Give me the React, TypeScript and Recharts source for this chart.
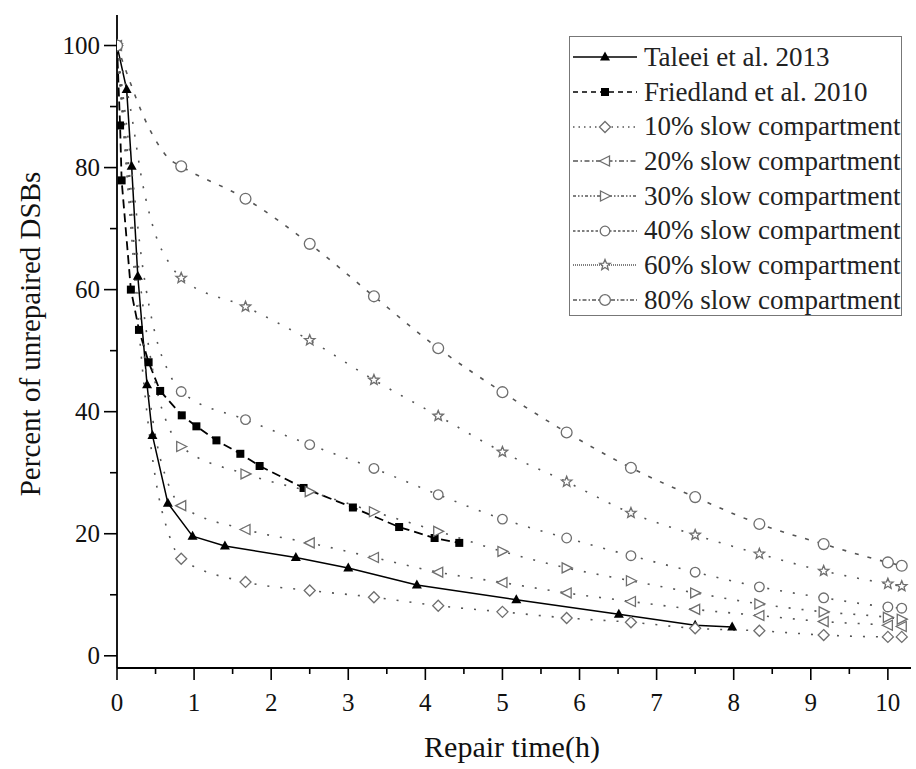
import React from 'react';
import { LineChart, Line, XAxis, YAxis, Legend } from 'recharts';

// measured data (Taleei et al. 2013)
const taleeiTime = [0, 0.125, 0.19, 0.27, 0.39, 0.46, 0.66, 0.98, 1.4, 2.32, 3.0, 3.89, 5.18, 6.51, 7.5, 7.98];
const taleeiPct = [100, 92.8, 80.2, 62.2, 44.4, 36.1, 25, 19.6, 18.0, 16.1, 14.4, 11.6, 9.2, 6.8, 5.0, 4.7];

// measured data (Friedland et al. 2010)
const friedlandTime = [0, 0.04, 0.06, 0.18, 0.285, 0.41, 0.56, 0.84, 1.03, 1.29, 1.6, 1.85, 2.42, 3.06, 3.66, 4.12, 4.44];
const friedlandPct = [100, 86.9, 77.9, 60, 53.4, 48.1, 43.4, 39.4, 37.6, 35.3, 33.1, 31.1, 27.5, 24.3, 21.1, 19.3, 18.5];

// model curves, markers drawn at index 0 and from index 5 on
const modelTime = [0, 0.17, 0.33, 0.5, 0.67, 0.833, 1.667, 2.5, 3.333, 4.167, 5, 5.833, 6.667, 7.5, 8.333, 9.167, 10, 10.18];
const slow10 = [100, 72, 47, 29, 20, 15.9, 12.1, 10.7, 9.6, 8.2, 7.2, 6.2, 5.5, 4.5, 4.1, 3.4, 3.1, 3.1];
const slow20 = [100, 75, 52, 36, 28, 24.6, 20.7, 18.5, 16.1, 13.7, 12.0, 10.3, 8.9, 7.6, 6.6, 5.6, 5.0, 4.8];
const slow30 = [100, 78, 58, 44.5, 37.5, 34.3, 29.8, 26.9, 23.6, 20.4, 17.1, 14.4, 12.3, 10.3, 8.5, 7.2, 6.3, 6.0];
const slow40 = [100, 82, 64, 52.5, 46.5, 43.3, 38.7, 34.6, 30.7, 26.4, 22.4, 19.3, 16.4, 13.7, 11.3, 9.5, 8.0, 7.8];
const slow60 = [100, 90, 77.5, 69, 64.5, 61.9, 57.2, 51.7, 45.2, 39.3, 33.4, 28.5, 23.4, 19.8, 16.7, 13.9, 11.8, 11.4];
const slow80 = [100, 94, 88.8, 84.5, 81.5, 80.2, 74.9, 67.5, 58.9, 50.4, 43.2, 36.6, 30.8, 26.0, 21.6, 18.3, 15.3, 14.75];

const xTicks = [0, 0.5, 1, 1.5, 2, 2.5, 3, 3.5, 4, 4.5, 5, 5.5, 6, 6.5, 7, 7.5, 8, 8.5, 9, 9.5, 10];
const yTicks = [0, 10, 20, 30, 40, 50, 60, 70, 80, 90, 100];

const FONT = '"Liberation Serif", "Times New Roman", serif';

const rows = (t: number[], v: number[], marked: (i: number) => boolean) =>
  t.map((x, i) => ({ x, y: v[i], m: marked(i) }));

const allMarked = () => true;
const modelMarked = (i: number) => i === 0 || i >= 5;

const star = (cx: number, cy: number, ro: number, ri: number) => {
  const pts: string[] = [];
  for (let k = 0; k < 10; k++) {
    const r = k % 2 === 0 ? ro : ri;
    const a = -Math.PI / 2 + (k * Math.PI) / 5;
    pts.push(`${cx + r * Math.cos(a)},${cy + r * Math.sin(a)}`);
  }
  return pts.join(' ');
};

const drawMarker = (shape: string, cx: number, cy: number) => {
  const open = { fill: '#fff', stroke: '#6e6e6e', strokeWidth: 1.3 };
  switch (shape) {
    case 'tri':
      return <polygon points={`${cx},${cy - 5.5} ${cx - 5},${cy + 3.5} ${cx + 5},${cy + 3.5}`} fill="#000" />;
    case 'square':
      return <rect x={cx - 4} y={cy - 4} width={8} height={8} fill="#000" />;
    case 'diamond':
      return <polygon points={`${cx},${cy - 5.5} ${cx + 5.5},${cy} ${cx},${cy + 5.5} ${cx - 5.5},${cy}`} {...open} />;
    case 'left':
      return <polygon points={`${cx - 5.5},${cy} ${cx + 4.5},${cy - 5} ${cx + 4.5},${cy + 5}`} {...open} />;
    case 'right':
      return <polygon points={`${cx + 5.5},${cy} ${cx - 4.5},${cy - 5} ${cx - 4.5},${cy + 5}`} {...open} />;
    case 'star':
      return <polygon points={star(cx, cy, 5.5, 2.4)} {...open} />;
    case 'circle':
      return <circle cx={cx} cy={cy} r={4.8} {...open} />;
    default:
      return <circle cx={cx} cy={cy} r={5.4} {...open} />;
  }
};

const series = [
  { name: 'Taleei et al. 2013', data: rows(taleeiTime, taleeiPct, allMarked), shape: 'tri', stroke: '#000', width: 1.5, dash: undefined, legendDash: undefined, type: 'linear' },
  { name: 'Friedland et al. 2010', data: rows(friedlandTime, friedlandPct, allMarked), shape: 'square', stroke: '#000', width: 1.8, dash: '9 5', legendDash: '5 4', type: 'linear' },
  { name: '10% slow compartment', data: rows(modelTime, slow10, modelMarked), shape: 'diamond', stroke: '#555', width: 1.6, dash: '2 11', legendDash: '1.5 4', type: 'monotone' },
  { name: '20% slow compartment', data: rows(modelTime, slow20, modelMarked), shape: 'left', stroke: '#555', width: 1.6, dash: '2 11', legendDash: '5 2.5 1.5 2.5', type: 'monotone' },
  { name: '30% slow compartment', data: rows(modelTime, slow30, modelMarked), shape: 'right', stroke: '#555', width: 1.6, dash: '2 11', legendDash: '3 2 1.5 2 1.5 2', type: 'monotone' },
  { name: '40% slow compartment', data: rows(modelTime, slow40, modelMarked), shape: 'circle', stroke: '#555', width: 1.6, dash: '2 11', legendDash: '2.5 2', type: 'monotone' },
  { name: '60% slow compartment', data: rows(modelTime, slow60, modelMarked), shape: 'star', stroke: '#555', width: 1.6, dash: '2 11', legendDash: '1 1', type: 'monotone' },
  { name: '80% slow compartment', data: rows(modelTime, slow80, modelMarked), shape: 'octa', stroke: '#555', width: 1.6, dash: '4 9', legendDash: '4 2 1.5 2', type: 'monotone' },
];

const XTick = ({ x, y, payload }: any) => {
  const major = Number.isInteger(payload.value);
  return (
    <g>
      <line x1={x} x2={x} y1={y} y2={y + (major ? 12 : 6)} stroke="#000" strokeWidth={1.6} />
      {major && (
        <text x={x} y={y + 43} textAnchor="middle" fontSize={25} fontFamily={FONT} fill="#111">
          {payload.value}
        </text>
      )}
    </g>
  );
};

const YTick = ({ x, y, payload }: any) => {
  const major = payload.value % 20 === 0;
  return (
    <g>
      <line x1={x} x2={x - (major ? 13 : 7)} y1={y} y2={y} stroke="#000" strokeWidth={1.6} />
      {major && (
        <text x={x - 17} y={y + 8} textAnchor="end" fontSize={25} fontFamily={FONT} fill="#111">
          {payload.value}
        </text>
      )}
    </g>
  );
};

const renderLegend = () => (
  <div
    style={{
      width: 333,
      height: 280,
      boxSizing: 'border-box',
      border: '1.5px solid #777',
      background: '#fff',
      paddingTop: 3,
    }}
  >
    {series.map((s) => (
      <div key={s.name} style={{ display: 'flex', alignItems: 'center', height: 34.7 }}>
        <svg width={72} height={20} style={{ flex: 'none' }}>
          <line x1={3} x2={67} y1={10} y2={10} stroke={s.stroke} strokeWidth={1.4} strokeDasharray={s.legendDash} />
          {drawMarker(s.shape, 35, 10)}
        </svg>
        <span style={{ fontFamily: FONT, fontSize: 27, color: '#222', whiteSpace: 'nowrap', marginLeft: 2 }}>{s.name}</span>
      </div>
    ))}
  </div>
);

export default function App() {
  return (
    <div style={{ position: 'absolute', left: 0, top: 0, background: '#fff' }}>
      <LineChart width={916} height={769} margin={{ top: 15, right: 5, left: 0, bottom: 0 }}>
        <XAxis
          type="number"
          dataKey="x"
          domain={[0, 10.3]}
          ticks={xTicks}
          interval={0}
          allowDataOverflow
          height={101}
          tickSize={0}
          tickMargin={0}
          tickLine={false}
          tick={<XTick />}
          axisLine={{ stroke: '#000', strokeWidth: 1.8 }}
          label={{
            content: () => (
              <text x={512} y={757} textAnchor="middle" fontSize={30} fontFamily={FONT} fill="#111">
                Repair time(h)
              </text>
            ),
          }}
        />
        <YAxis
          type="number"
          dataKey="y"
          domain={[-2, 105]}
          ticks={yTicks}
          interval={0}
          allowDataOverflow
          width={117}
          tickSize={0}
          tickMargin={0}
          tickLine={false}
          tick={<YTick />}
          axisLine={{ stroke: '#000', strokeWidth: 1.8 }}
          label={{
            content: () => (
              <text x={40} y={334} transform="rotate(-90 40 334)" textAnchor="middle" fontSize={29} fontFamily={FONT} fill="#111">
                Percent of unrepaired DSBs
              </text>
            ),
          }}
        />
        <Legend
          layout="horizontal"
          verticalAlign="middle"
          align="center"
          content={renderLegend}
          wrapperStyle={{ position: 'absolute', left: 569, top: 36, width: 333, height: 280 }}
        />
        {series.map((s) => (
          <Line
            key={s.name}
            data={s.data}
            dataKey="y"
            name={s.name}
            type={s.type as any}
            stroke={s.stroke}
            strokeWidth={s.width}
            strokeDasharray={s.dash}
            isAnimationActive={false}
            activeDot={false}
            dot={(p: any) =>
              p.payload && p.payload.m && p.cx != null ? (
                <g key={`${s.name}-${p.index}`}>{drawMarker(s.shape, p.cx, p.cy)}</g>
              ) : (
                <g key={`${s.name}-${p.index}`} />
              )
            }
          />
        ))}
      </LineChart>
    </div>
  );
}
